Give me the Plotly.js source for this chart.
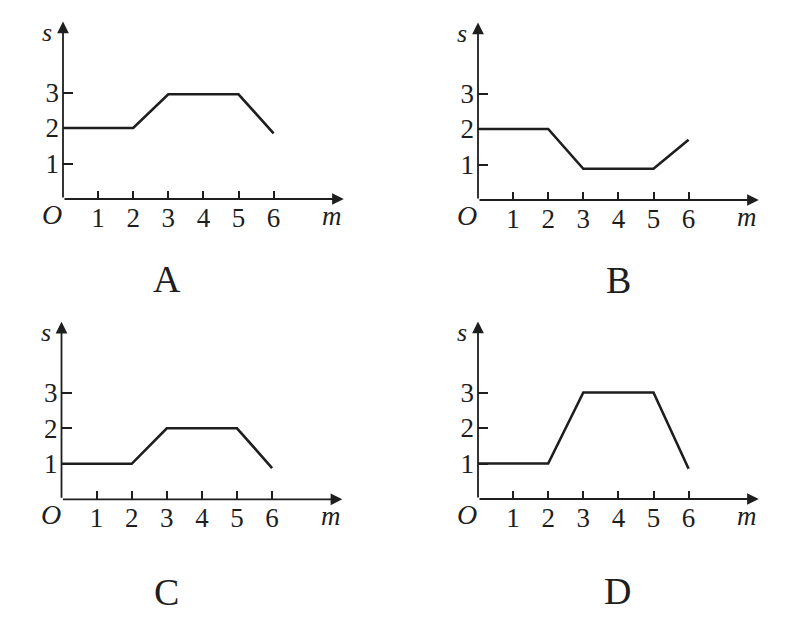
<!DOCTYPE html>
<html>
<head>
<meta charset="utf-8">
<script src="https://cdn.plot.ly/plotly-3.0.1.min.js"></script>
<style>html,body{margin:0;padding:0;background:#fff;}#chart{width:803px;height:620px;}</style>
</head>
<body>
<div id="chart"></div>
<script>
// ---- data ----
const mValues = [0, 2, 3, 5, 6];
const sA = [2, 2, 2.95, 2.95, 1.85];
const sB = [2, 2, 0.88, 0.88, 1.7];
const sC = [1, 1, 2, 2, 0.88];
const sD = [1, 1, 3, 3, 0.85];
const xTickVals = [1, 2, 3, 4, 5, 6];
const xTickText = ['1', '2', '3', '4', '5', '6'];
const yTickVals = [1, 2, 3];
const yTickText = ['1', '2', '3'];
const panelLabels = ['A', 'B', 'C', 'D'];
const xAxisLabel = 'm';
const yAxisLabel = 's';
const originLabel = 'O';

// ---- layout helpers ----
const W = 803, H = 620;
const ux = 35.1, uy = 35.5;   // px per unit
const xMax = 8, yMax = 5;
const origins = [[63, 199], [478, 200], [61.5, 499.3], [478, 499]];
const letterPos = [[167, 279], [618, 280], [166, 592], [617, 591]];
const series = [sA, sB, sC, sD];
const ink = '#1e1e1e';
const serif = 'Liberation Serif, Times New Roman, serif';

const data = [];
const layout = {
  width: W, height: H,
  margin: {l: 0, r: 0, t: 0, b: 0},
  paper_bgcolor: '#fff', plot_bgcolor: 'rgba(0,0,0,0)',
  showlegend: false,
  annotations: [],
  font: {family: serif, color: ink}
};
const px = (x) => x / W;
const py = (y) => 1 - y / H;
const label = (x, y, text, size) => ({
  xref: 'paper', yref: 'paper', x: px(x), y: py(y),
  xanchor: 'center', yanchor: 'middle',
  text: text, showarrow: false, font: {family: serif, size: size, color: ink}
});

origins.forEach((o, i) => {
  const n = i === 0 ? '' : String(i + 1);
  const xa = 'x' + n, ya = 'y' + n;
  const [ox, oy] = o;
  layout['xaxis' + n] = {
    domain: [ox / W, (ox + xMax * ux) / W],
    range: [0, xMax], anchor: ya,
    showgrid: false, zeroline: false, showline: false,
    ticks: 'inside', ticklen: 8, tickwidth: 2, tickcolor: ink,
    tickvals: xTickVals, ticktext: xTickText,
    tickfont: {family: serif, size: 27, color: ink},
    ticklabelstandoff: 0,
    fixedrange: true
  };
  layout['yaxis' + n] = {
    domain: [(H - oy) / H, (H - oy + yMax * uy) / H],
    range: [0, yMax], anchor: xa,
    showgrid: false, zeroline: false, showline: false,
    ticks: 'inside', ticklen: 10, tickwidth: 2, tickcolor: ink,
    tickvals: yTickVals, ticktext: yTickText,
    tickfont: {family: serif, size: 27, color: ink},
    ticklabelstandoff: 3,
    fixedrange: true
  };
  data.push({
    x: mValues, y: series[i], xaxis: xa, yaxis: ya,
    type: 'scatter', mode: 'lines',
    line: {color: ink, width: 2.6},
    hoverinfo: 'skip'
  });
  // axis arrows
  layout.annotations.push({
    xref: xa, yref: ya, axref: xa, ayref: ya,
    x: xMax, y: 0, ax: 0, ay: 0, text: '', showarrow: true,
    arrowhead: 2, arrowsize: 1.3, arrowwidth: 1.8, arrowcolor: ink, standoff: 0, startstandoff: 0
  });
  layout.annotations.push({
    xref: xa, yref: ya, axref: xa, ayref: ya,
    x: 0, y: yMax, ax: 0, ay: 0, text: '', showarrow: true,
    arrowhead: 2, arrowsize: 1.3, arrowwidth: 1.8, arrowcolor: ink, standoff: 0, startstandoff: 0
  });
  // axis names and origin (offset from origin in px)
  layout.annotations.push(label(ox - 16, oy - 167, '<i>' + yAxisLabel + '</i>', 26));
  layout.annotations.push(label(ox + 269, oy + 17, '<i>' + xAxisLabel + '</i>', 27));
  layout.annotations.push(label(ox - 11, oy + 15, '<i>' + originLabel + '</i>', 28));
  // panel letter
  layout.annotations.push(label(letterPos[i][0], letterPos[i][1], panelLabels[i], 38));
});

Plotly.newPlot('chart', data, layout, {displayModeBar: false, staticPlot: true});
</script>
</body>
</html>
